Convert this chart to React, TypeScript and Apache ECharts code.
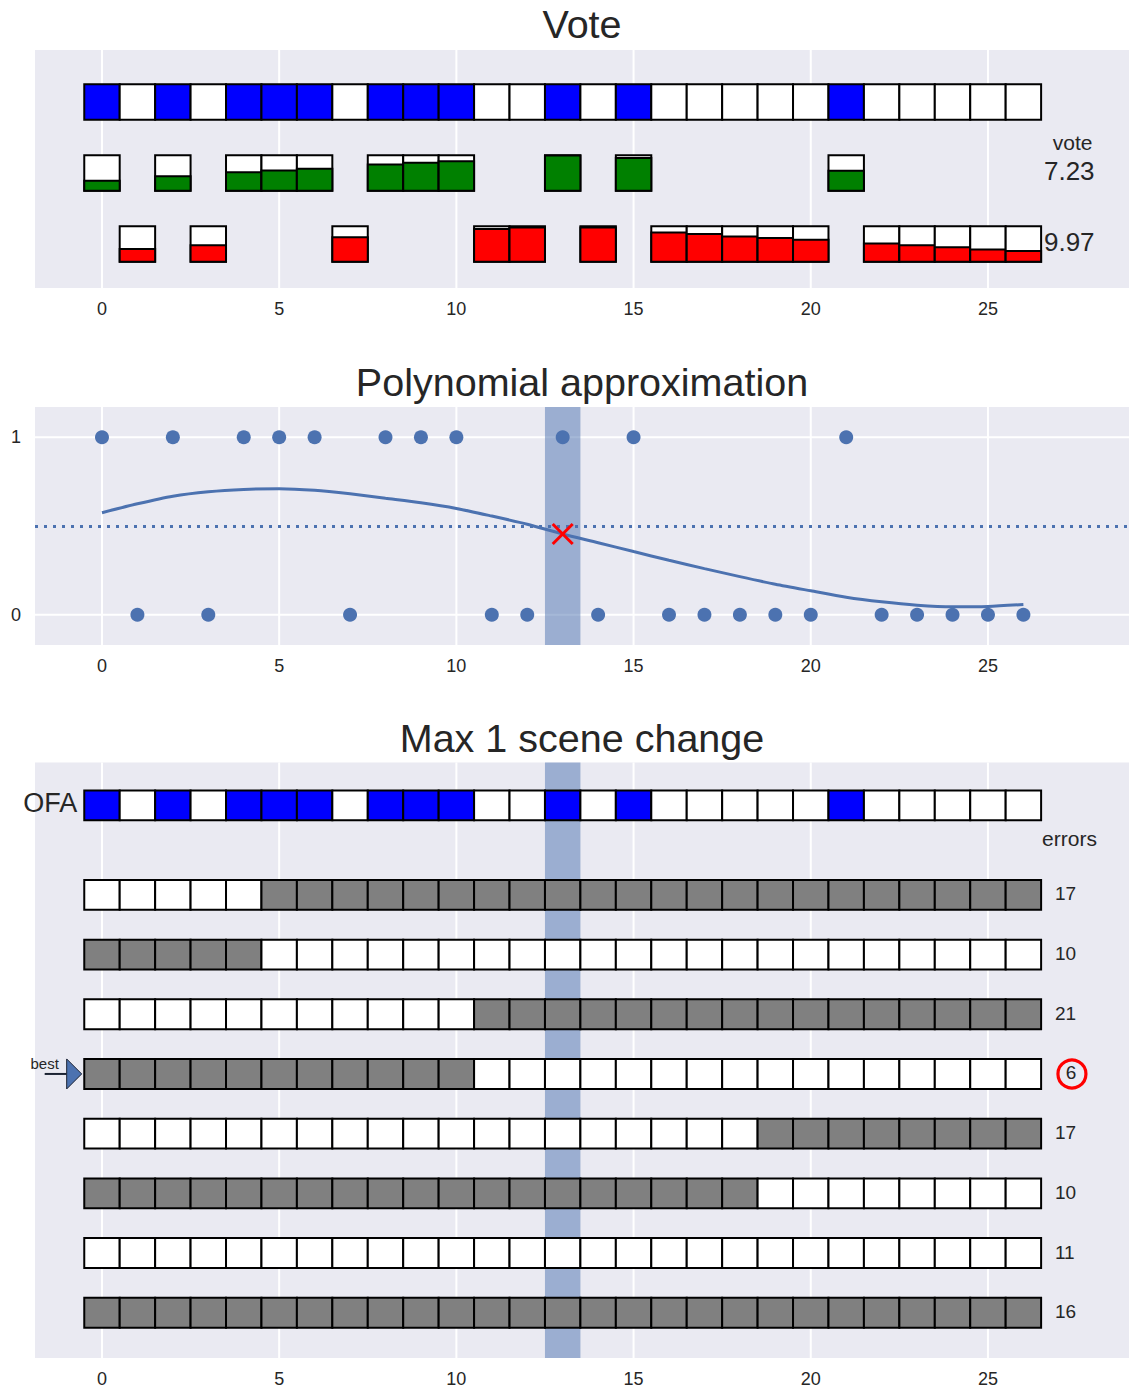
import React, { useEffect, useRef } from "react";
import * as echarts from "echarts";

// ---------------- data ----------------
const frameIndex = [0, 1, 2, 3, 4, 5, 6, 7, 8, 9, 10, 11, 12, 13, 14, 15, 16, 17, 18, 19, 20, 21, 22, 23, 24, 25, 26];
const ofaLabels = [1, 0, 1, 0, 1, 1, 1, 0, 1, 1, 1, 0, 0, 1, 0, 1, 0, 0, 0, 0, 0, 1, 0, 0, 0, 0, 0];
const voteShares = [0.28, 0.36, 0.41, 0.46, 0.52, 0.57, 0.62, 0.69, 0.74, 0.79, 0.83, 0.92, 0.96, 0.99, 0.96, 0.92, 0.82, 0.78, 0.71, 0.67, 0.62, 0.56, 0.51, 0.46, 0.41, 0.34, 0.3];
const voteTotals = ["7.23", "9.97"];
const polyFit = [0.575, 0.625, 0.668, 0.693, 0.706, 0.71, 0.701, 0.681, 0.656, 0.631, 0.599, 0.556, 0.51, 0.455, 0.406, 0.356, 0.307, 0.26, 0.215, 0.172, 0.135, 0.099, 0.073, 0.054, 0.045, 0.047, 0.058];
const threshold = 0.5;
const chosenFrame = 13;
const chosenFit = 0.455;
const xTickValues = [0, 5, 10, 15, 20, 25];
const yTickValues = [0, 1];
const candidateRows = [
  [0, 0, 0, 0, 0, 1, 1, 1, 1, 1, 1, 1, 1, 1, 1, 1, 1, 1, 1, 1, 1, 1, 1, 1, 1, 1, 1],
  [1, 1, 1, 1, 1, 0, 0, 0, 0, 0, 0, 0, 0, 0, 0, 0, 0, 0, 0, 0, 0, 0, 0, 0, 0, 0, 0],
  [0, 0, 0, 0, 0, 0, 0, 0, 0, 0, 0, 1, 1, 1, 1, 1, 1, 1, 1, 1, 1, 1, 1, 1, 1, 1, 1],
  [1, 1, 1, 1, 1, 1, 1, 1, 1, 1, 1, 0, 0, 0, 0, 0, 0, 0, 0, 0, 0, 0, 0, 0, 0, 0, 0],
  [0, 0, 0, 0, 0, 0, 0, 0, 0, 0, 0, 0, 0, 0, 0, 0, 0, 0, 0, 1, 1, 1, 1, 1, 1, 1, 1],
  [1, 1, 1, 1, 1, 1, 1, 1, 1, 1, 1, 1, 1, 1, 1, 1, 1, 1, 1, 0, 0, 0, 0, 0, 0, 0, 0],
  [0, 0, 0, 0, 0, 0, 0, 0, 0, 0, 0, 0, 0, 0, 0, 0, 0, 0, 0, 0, 0, 0, 0, 0, 0, 0, 0],
  [1, 1, 1, 1, 1, 1, 1, 1, 1, 1, 1, 1, 1, 1, 1, 1, 1, 1, 1, 1, 1, 1, 1, 1, 1, 1, 1],
];
const candidateErrors = [17, 10, 21, 6, 17, 10, 11, 16];
const bestCandidate = 3;
const titles = ["Vote", "Polynomial approximation", "Max 1 scene change"];

// ---------------- styling ----------------
const FONT = '"Liberation Sans", Arial, Helvetica, sans-serif';
const INK = "#262626";
const SB_BLUE = "#4c72b0";
const BG = "#eaeaf2";
const EDGE = 2;

const X_MIN = -1.89;
const X_MAX = 28.98;
const Y_RANGES = [
  { min: -5.242, max: 1.467 },
  { min: -0.17, max: 1.17 },
  { min: -9.258, max: 0.717 },
];
const GRIDS = [
  { top: 50, height: 238 },
  { top: 407, height: 238 },
  { top: 762.5, height: 595.5 },
];

function cellRect(api: any, x: number, yTop: number, yBot: number, fill: string) {
  const a = api.coord([x - 0.5, yTop]);
  const b = api.coord([x + 0.5, yBot]);
  return {
    type: "rect",
    shape: { x: a[0], y: a[1], width: b[0] - a[0], height: b[1] - a[1] },
    style: { fill, stroke: "#000", lineWidth: EDGE },
  };
}

function txt(x: number, y: number, text: string, size: number, align = "center", fill = INK) {
  return {
    type: "text",
    x,
    y,
    style: { text, fill, fontSize: size, fontFamily: FONT, align, verticalAlign: "middle" },
  };
}

function vGrid(gi: number) {
  const r = Y_RANGES[gi];
  return {
    type: "custom",
    xAxisIndex: gi,
    yAxisIndex: gi,
    silent: true,
    z: 1,
    data: xTickValues.map((v) => [v, 0]),
    renderItem: (_p: any, api: any) => {
      const a = api.coord([api.value(0), r.max]);
      const b = api.coord([api.value(0), r.min]);
      return { type: "line", shape: { x1: a[0], y1: a[1], x2: b[0], y2: b[1] }, style: { stroke: "#ffffff", lineWidth: 2 } };
    },
  };
}

function hGrid(gi: number) {
  return {
    type: "custom",
    xAxisIndex: gi,
    yAxisIndex: gi,
    silent: true,
    z: 1,
    data: yTickValues.map((v) => [0, v]),
    renderItem: (_p: any, api: any) => {
      const a = api.coord([X_MIN, api.value(1)]);
      const b = api.coord([X_MAX, api.value(1)]);
      return { type: "line", shape: { x1: a[0], y1: a[1], x2: b[0], y2: b[1] }, style: { stroke: "#ffffff", lineWidth: 2 } };
    },
  };
}

function band(gi: number) {
  const r = Y_RANGES[gi];
  return {
    type: "custom",
    xAxisIndex: gi,
    yAxisIndex: gi,
    silent: true,
    z: 2,
    data: [[chosenFrame, 0]],
    renderItem: (_p: any, api: any) => {
      const a = api.coord([api.value(0) - 0.5, r.max]);
      const b = api.coord([api.value(0) + 0.5, r.min]);
      return {
        type: "rect",
        shape: { x: a[0], y: a[1], width: b[0] - a[0], height: b[1] - a[1] },
        style: { fill: "rgba(76,114,176,0.5)" },
      };
    },
  };
}

function buildOption() {
  const series: any[] = [];

  // ---------- panel 1 : Vote ----------
  series.push(vGrid(0));
  series.push({
    type: "custom",
    xAxisIndex: 0,
    yAxisIndex: 0,
    z: 3,
    data: frameIndex.map((i) => [i, 0, ofaLabels[i]]),
    renderItem: (_p: any, api: any) =>
      cellRect(api, api.value(0), api.value(1) + 0.5, api.value(1) - 0.5, api.value(2) ? "#0000ff" : "#ffffff"),
  });
  series.push({
    type: "custom",
    xAxisIndex: 0,
    yAxisIndex: 0,
    z: 3,
    data: frameIndex.map((i) => [i, ofaLabels[i] ? -2 : -4, voteShares[i], ofaLabels[i]]),
    renderItem: (_p: any, api: any) => {
      const x = api.value(0);
      const y = api.value(1);
      const s = api.value(2);
      const color = api.value(3) ? "#008000" : "#ff0000";
      return {
        type: "group",
        children: [cellRect(api, x, y + 0.5, y - 0.5, "#ffffff"), cellRect(api, x, y - 0.5 + s, y - 0.5, color)],
      };
    },
  });
  series.push({
    type: "custom",
    xAxisIndex: 0,
    yAxisIndex: 0,
    z: 4,
    silent: true,
    data: [[0, 0]],
    renderItem: (_p: any, api: any) => {
      const v = api.coord([27.39, -1.13]);
      const g = api.coord([26.58, -2]);
      const r = api.coord([26.58, -4]);
      return {
        type: "group",
        children: [
          txt(v[0], v[1], "vote", 21),
          txt(g[0], g[1] - 2, voteTotals[0], 26, "left"),
          txt(r[0], r[1] - 2, voteTotals[1], 26, "left"),
        ],
      };
    },
  });

  // ---------- panel 2 : Polynomial approximation ----------
  series.push(vGrid(1));
  series.push(hGrid(1));
  series.push(band(1));
  series.push({
    type: "line",
    xAxisIndex: 1,
    yAxisIndex: 1,
    z: 3,
    silent: true,
    data: frameIndex.map((i) => [i, polyFit[i]]),
    showSymbol: false,
    symbol: "none",
    smooth: 0.25,
    lineStyle: { color: SB_BLUE, width: 3 },
    markLine: {
      silent: true,
      symbol: "none",
      label: { show: false },
      lineStyle: { color: SB_BLUE, width: 3, type: [3, 6], cap: "butt" },
      data: [{ yAxis: threshold }],
    },
  });
  series.push({
    type: "scatter",
    xAxisIndex: 1,
    yAxisIndex: 1,
    z: 4,
    silent: true,
    symbolSize: 14,
    itemStyle: { color: SB_BLUE, opacity: 1 },
    data: frameIndex.map((i) => [i, ofaLabels[i]]),
  });
  series.push({
    type: "custom",
    xAxisIndex: 1,
    yAxisIndex: 1,
    z: 5,
    silent: true,
    data: [[chosenFrame, chosenFit]],
    renderItem: (_p: any, api: any) => {
      const c = api.coord([api.value(0), api.value(1)]);
      const h = 10;
      const st = { stroke: "#ff0000", lineWidth: 3 };
      return {
        type: "group",
        children: [
          { type: "line", shape: { x1: c[0] - h, y1: c[1] - h, x2: c[0] + h, y2: c[1] + h }, style: st },
          { type: "line", shape: { x1: c[0] - h, y1: c[1] + h, x2: c[0] + h, y2: c[1] - h }, style: st },
        ],
      };
    },
  });

  // ---------- panel 3 : Max 1 scene change ----------
  series.push(vGrid(2));
  series.push(band(2));
  series.push({
    type: "custom",
    xAxisIndex: 2,
    yAxisIndex: 2,
    z: 3,
    data: frameIndex.map((i) => [i, 0, ofaLabels[i]]),
    renderItem: (_p: any, api: any) =>
      cellRect(api, api.value(0), api.value(1) + 0.25, api.value(1) - 0.25, api.value(2) ? "#0000ff" : "#ffffff"),
  });
  const candData: number[][] = [];
  candidateRows.forEach((row, k) => {
    frameIndex.forEach((i) => candData.push([i, -(1.5 + k), row[i]]));
  });
  series.push({
    type: "custom",
    xAxisIndex: 2,
    yAxisIndex: 2,
    z: 3,
    data: candData,
    renderItem: (_p: any, api: any) =>
      cellRect(api, api.value(0), api.value(1) + 0.25, api.value(1) - 0.25, api.value(2) ? "#808080" : "#ffffff"),
  });
  series.push({
    type: "custom",
    xAxisIndex: 2,
    yAxisIndex: 2,
    z: 4,
    silent: true,
    data: [[0, 0]],
    renderItem: (_p: any, api: any) => {
      const children: any[] = [];
      const ofa = api.coord([-0.7, 0]);
      children.push(txt(ofa[0], ofa[1] - 2, "OFA", 27, "right"));
      const er = api.coord([27.3, -0.548]);
      children.push(txt(er[0], er[1], "errors", 21));
      candidateErrors.forEach((e, k) => {
        const y = -(1.5 + k);
        if (k === bestCandidate) {
          const c = api.coord([27.37, y]);
          children.push({
            type: "circle",
            shape: { cx: c[0], cy: c[1], r: 14 },
            style: { fill: "none", stroke: "#ff0000", lineWidth: 3.2 },
          });
          children.push(txt(c[0] - 1, c[1] - 1, String(e), 19));
        } else {
          const p = api.coord([26.89, y]);
          children.push(txt(p[0], p[1] - 1, String(e), 19, "left"));
        }
      });
      const tip = api.coord([-0.573, -(1.5 + bestCandidate)]);
      children.push({
        type: "line",
        shape: { x1: tip[0] - 37, y1: tip[1], x2: tip[0] - 15, y2: tip[1] },
        style: { stroke: "#1c2333", lineWidth: 2 },
      });
      children.push({
        type: "polygon",
        shape: { points: [[tip[0], tip[1]], [tip[0] - 15, tip[1] - 15], [tip[0] - 15, tip[1] + 15]] },
        style: { fill: SB_BLUE, stroke: "#1c2333", lineWidth: 1 },
      });
      children.push(txt(tip[0] - 37, tip[1] - 10, "best", 15));
      return { type: "group", children };
    },
  });

  return {
    animation: false,
    backgroundColor: "#ffffff",
    textStyle: { fontFamily: FONT },
    graphic: titles.map((t, i) => ({
      type: "text",
      x: 582,
      y: [24, 382, 738][i],
      style: { text: t, fill: INK, fontSize: 39.5, fontFamily: FONT, align: "center", verticalAlign: "middle" },
    })),
    grid: GRIDS.map((g) => ({
      left: 35,
      width: 1094,
      top: g.top,
      height: g.height,
      show: true,
      backgroundColor: BG,
      borderWidth: 0,
      containLabel: false,
    })),
    xAxis: [0, 1, 2].map((i) => ({
      type: "value",
      gridIndex: i,
      min: X_MIN,
      max: X_MAX,
      axisLine: { show: false },
      axisTick: { show: false, customValues: xTickValues },
      splitLine: { show: false },
      axisLabel: { customValues: xTickValues, fontSize: 18, color: INK, fontFamily: FONT, margin: 12 },
    })),
    yAxis: [0, 1, 2].map((i) => ({
      type: "value",
      gridIndex: i,
      min: Y_RANGES[i].min,
      max: Y_RANGES[i].max,
      axisLine: { show: false },
      axisTick: { show: false, customValues: yTickValues },
      splitLine: { show: false },
      axisLabel:
        i === 1
          ? { show: true, customValues: yTickValues, fontSize: 18, color: INK, fontFamily: FONT, margin: 14 }
          : { show: false },
    })),
    series,
  };
}

export default function App() {
  const ref = useRef<HTMLDivElement>(null);
  useEffect(() => {
    if (!ref.current) return;
    const chart = echarts.init(ref.current, null, { renderer: "svg" });
    chart.setOption(buildOption() as any);
    return () => chart.dispose();
  }, []);
  return (
    <div
      ref={ref}
      style={{ position: "absolute", left: 0, top: 0, width: 1129, height: 1390, background: "#ffffff" }}
    />
  );
}
